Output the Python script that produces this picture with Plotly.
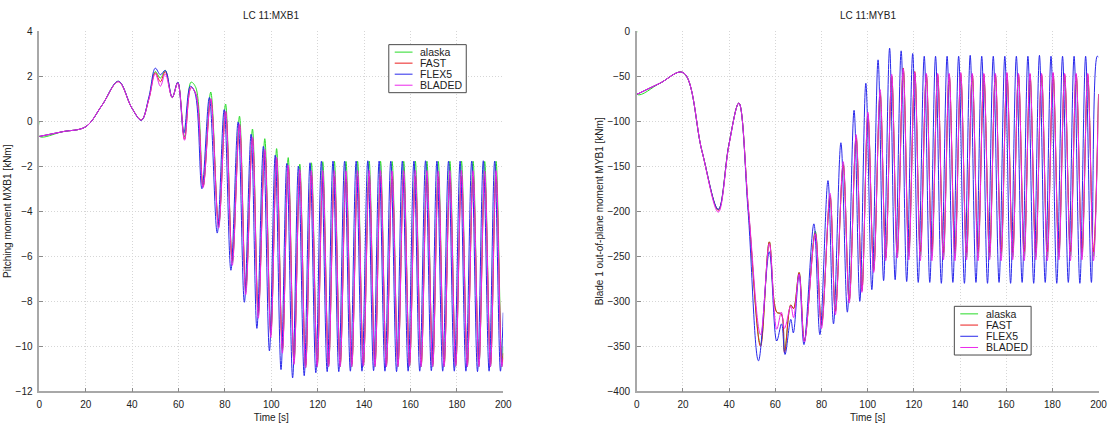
import plotly.graph_objects as go

# ---------------------------------------------------------------------------
# Load case 11: blade root moments, four aero-elastic codes compared.
# Each series is stored as its turning points (time [s], moment [kNm]).
# ---------------------------------------------------------------------------

series_names = ["alaska", "FAST", "FLEX5", "BLADED"]

# ----- Pitching moment MXB1 [kNm] -----
mxb1_t_flex5 = [
    0, 10, 20, 27, 34.1, 39.8, 44.0, 47.3, 50.0, 52.2, 54.3, 57.3, 59.7,
    62.3, 65.1, 67.1, 70.1, 73.3, 76.7, 79.7, 82.6, 85.7, 88.4, 91.3, 93.8, 96.6,
    99.2, 101.7, 104.2, 106.7, 109.2, 111.7, 114.2, 116.7, 119.2, 121.6, 124.1,
    126.6, 129.1, 131.6, 134.1, 136.6, 139.1, 141.6, 144.1, 146.5, 149.0,
    151.5, 154.0, 156.5, 159.0, 161.5, 164.0, 166.5, 169.0, 171.4, 173.9,
    176.4, 178.9, 181.4, 183.9, 186.4, 188.9, 191.4, 193.9, 196.3, 198.8, 200,
]
mxb1_t_lag = [
    0, 10, 20, 27, 34.1, 39.8, 44.0, 47.3, 50.0, 52.2, 54.3, 57.3, 59.7,
    62.6, 65.4, 67.5, 70.6, 73.9, 77.3, 80.3, 83.2, 86.3, 89.0, 91.9, 94.4, 97.2,
    99.8, 102.3, 104.8, 107.3, 109.8, 112.3, 114.8, 117.3, 119.8, 122.2, 124.7,
    127.2, 129.7, 132.2, 134.7, 137.2, 139.7, 142.2, 144.7, 147.1, 149.6,
    152.1, 154.6, 157.1, 159.6, 162.1, 164.6, 167.1, 169.6, 172.0, 174.5,
    177.0, 179.5, 182.0, 184.5, 187.0, 189.5, 192.0, 194.5, 196.9, 199.4, 200,
]
mxb1_t_alaska = [
    0, 0.05, 10, 20, 27, 34.1, 39.8, 44.0, 47.3, 50.0, 52.2, 54.3, 57.3, 59.7,
    62.6, 65.4, 67.5, 70.6, 73.9, 77.3, 80.3, 83.2, 86.3, 89.0, 91.9, 94.4, 97.2,
    99.8, 102.3, 104.8, 107.3, 109.8, 112.3, 114.8, 117.3, 119.8, 122.2, 124.7,
    127.2, 129.7, 132.2, 134.7, 137.2, 139.7, 142.2, 144.7, 147.1, 149.6,
    152.1, 154.6, 157.1, 159.6, 162.1, 164.6, 167.1, 169.6, 172.0, 174.5,
    177.0, 179.5, 182.0, 184.5, 187.0, 189.5, 192.0, 194.5, 196.9, 199.4, 200,
]

mxb1_alaska = [
    0.0, -0.68, -0.47, -0.25, 0.7, 1.77, 0.6, 0.05, 1.05, 2.2, 1.91, 2.25, 1.05, 1.73,
    -0.7, 1.73, 1.48, -2.9, 1.29, -4.7, 0.76, -6.3, 0.22, -7.6, -0.35, -8.65, -0.78,
    -9.5, -1.22, -10.2, -1.62, -10.75, -1.91, -10.95, -1.85, -10.9, -1.8, -10.9,
    -1.78, -10.9, -1.79, -10.9, -1.78, -10.88, -1.77, -10.9, -1.78, -10.9,
    -1.79, -10.9, -1.78, -10.88, -1.77, -10.9, -1.78, -10.9, -1.79, -10.9,
    -1.78, -10.88, -1.77, -10.9, -1.78, -10.9, -1.79, -10.9, -1.78, -10.9, -10.0,
]
mxb1_fast = [
    -0.68, -0.47, -0.25, 0.7, 1.75, 0.6, 0.05, 1.0, 2.15, 1.75, 2.2, 1.05, 1.7,
    -0.8, 1.5, 1.2, -2.9, 0.97, -4.6, 0.4, -6.2, -0.18, -7.4, -0.78, -8.5, -1.33,
    -9.35, -1.69, -10.1, -2.05, -10.6, -2.3, -10.85, -2.4, -10.82, -2.45, -10.8,
    -2.45, -10.8, -2.46, -10.8, -2.45, -10.78, -2.44, -10.8, -2.45, -10.8,
    -2.46, -10.8, -2.45, -10.78, -2.44, -10.8, -2.45, -10.8, -2.46, -10.8,
    -2.45, -10.78, -2.44, -10.8, -2.45, -10.8, -2.46, -10.8, -2.45, -10.8, -10.3,
]
mxb1_flex5 = [
    -0.68, -0.47, -0.25, 0.7, 1.77, 0.6, 0.03, 1.1, 2.35, 2.06, 2.25, 1.05, 1.73,
    -0.54, 1.55, 1.26, -3.0, 1.05, -4.97, 0.51, -6.62, -0.04, -8.04, -0.58, -9.2, -1.12,
    -10.2, -1.51, -11.03, -1.88, -11.4, -2.0, -11.3, -1.85, -11.17, -1.78, -11.12,
    -1.77, -11.12, -1.78, -11.10, -1.77, -11.10, -1.76, -11.08, -1.77, -11.10,
    -1.78, -11.12, -1.77, -11.10, -1.77, -11.10, -1.76, -11.08, -1.77, -11.10,
    -1.78, -11.10, -1.77, -11.10, -1.77, -11.12, -1.76, -11.10, -1.77, -11.10, -8.5,
]
mxb1_bladed = [
    -0.68, -0.47, -0.25, 0.7, 1.75, 0.6, 0.05, 1.0, 2.1, 1.55, 2.1, 1.05, 1.7,
    -0.85, 1.48, 1.2, -2.95, 1.0, -4.75, 0.45, -6.4, -0.12, -7.7, -0.7, -8.75, -1.25,
    -9.6, -1.6, -10.3, -1.95, -10.8, -2.15, -10.95, -2.2, -10.9, -2.2, -10.9,
    -2.2, -10.9, -2.21, -10.9, -2.2, -10.88, -2.19, -10.9, -2.2, -10.9,
    -2.21, -10.9, -2.2, -10.88, -2.19, -10.9, -2.2, -10.9, -2.21, -10.9,
    -2.2, -10.88, -2.19, -10.9, -2.2, -10.9, -2.21, -10.9, -2.2, -10.9, -10.5,
]

# ----- Blade 1 out-of-plane moment MYB1 [kNm] -----
myb1_t_flex5 = [
    0, 10, 20, 28.2, 35.3, 39.9, 44.2, 48.2, 52.7, 57.4,
    60.6, 62.7, 64.2, 66.7, 67.8, 70.3, 72.4, 76.7, 79.3, 82.8,
    85.2, 88.4, 91.2, 94.1, 96.6,
    99.2, 101.8, 104.5, 106.9, 109.5, 111.9, 114.5, 116.9, 119.5, 121.9, 124.5,
    126.9, 129.4, 131.9, 134.4, 136.9, 139.4, 141.9, 144.4, 146.9, 149.4,
    151.9, 154.4, 156.9, 159.4, 161.9, 164.4, 166.9, 169.4, 171.9, 174.4,
    176.9, 179.4, 181.9, 184.4, 186.9, 189.4, 191.9, 194.4, 196.9, 199.4, 200,
]
myb1_t_lag = [
    0, 10, 20, 28.2, 35.3, 39.9, 44.2, 48.4, 53.6, 57.4,
    60.6, 62.6, 64.0, 66.7, 67.9, 70.3, 72.6, 77.3, 80.0, 83.7,
    86.0, 89.4, 92.0, 95.0, 97.5,
    100.1, 102.6, 105.4, 107.8, 110.4, 112.8, 115.4, 117.8, 120.4, 122.8, 125.4,
    127.8, 130.3, 132.8, 135.3, 137.8, 140.3, 142.8, 145.3, 147.8, 150.3,
    152.8, 155.3, 157.8, 160.3, 162.8, 165.3, 167.8, 170.3, 172.8, 175.3,
    177.8, 180.3, 182.8, 185.3, 187.8, 190.3, 192.8, 195.3, 197.8, 200,
]
myb1_t_alaska = [
    0, 0.05, 10, 20, 28.2, 35.3, 39.9, 44.2, 48.4, 53.6, 57.4,
    60.6, 62.6, 64.0, 66.7, 67.9, 70.3, 72.6, 77.3, 80.0, 83.7,
    86.0, 89.4, 92.0, 95.0, 97.5,
    100.1, 102.6, 105.4, 107.8, 110.4, 112.8, 115.4, 117.8, 120.4, 122.8, 125.4,
    127.8, 130.3, 132.8, 135.3, 137.8, 140.3, 142.8, 145.3, 147.8, 150.3,
    152.8, 155.3, 157.8, 160.3, 162.8, 165.3, 167.8, 170.3, 172.8, 175.3,
    177.8, 180.3, 182.8, 185.3, 187.8, 190.3, 192.8, 195.3, 197.8, 200,
]

myb1_alaska = [
    0, -70.3, -58, -46, -133, -198, -126, -80, -200, -348, -234,
    -312, -314, -355, -304, -308, -268, -344, -222, -327, -182,
    -311, -147, -299, -117, -288,
    -92, -264, -68, -252, -50, -250, -43, -250, -47, -250, -50,
    -250, -50, -251, -50, -250, -49, -251, -50, -250, -50,
    -251, -50, -250, -49, -251, -50, -250, -50, -251, -50,
    -250, -49, -251, -50, -250, -50, -251, -50, -250, -70,
]
myb1_fast = [
    -70.3, -58, -46, -133, -199, -126, -80, -200, -350, -234,
    -312, -314, -357, -304, -308, -268, -344, -224, -326, -184,
    -311, -149, -299, -119, -288,
    -93, -266, -70, -252, -50, -246, -41, -245, -45, -245, -48,
    -245, -48, -246, -48, -245, -47, -246, -48, -245, -48,
    -246, -48, -245, -47, -246, -48, -245, -48, -246, -48,
    -245, -47, -246, -48, -245, -48, -246, -48, -245, -70,
]
myb1_flex5 = [
    -70.3, -58, -46, -133, -198, -126, -80, -200, -366, -245,
    -344, -325, -359, -320, -335, -270, -348, -214, -337, -166,
    -325, -124, -312, -88, -300,
    -58, -287, -32, -277, -19, -276, -22, -278, -25, -279, -28,
    -279, -28, -280, -28, -279, -28, -280, -27, -279, -28,
    -280, -28, -279, -28, -280, -28, -279, -28, -280, -27,
    -279, -28, -280, -28, -279, -28, -280, -28, -279, -28, -29,
]
myb1_bladed = [
    -70.3, -58, -46, -133, -201, -127, -80, -198, -337, -236,
    -331, -312, -330, -305, -318, -270, -345, -225, -330, -180,
    -315, -145, -302, -115, -290,
    -90, -268, -65, -255, -48, -252, -42, -254, -46, -255, -47,
    -255, -47, -254, -47, -255, -46, -254, -47, -255, -47,
    -254, -47, -255, -46, -254, -47, -255, -47, -254, -47,
    -255, -46, -254, -47, -255, -47, -254, -47, -255, -70,
]

x_ticks = [0, 20, 40, 60, 80, 100, 120, 140, 160, 180, 200]
mxb1_ticks = [4, 2, 0, -2, -4, -6, -8, -10, -12]
myb1_ticks = [0, -50, -100, -150, -200, -250, -300, -350, -400]

# ---------------------------------------------------------------------------
line_colors = {
    "alaska": "rgb(40,220,40)",
    "FAST": "rgb(235,30,30)",
    "FLEX5": "rgb(40,40,235)",
    "BLADED": "rgb(235,40,235)",
}

panels = [
    dict(
        t={"alaska": mxb1_t_alaska, "FAST": mxb1_t_lag,
           "FLEX5": mxb1_t_flex5, "BLADED": mxb1_t_lag},
        y={"alaska": mxb1_alaska, "FAST": mxb1_fast,
           "FLEX5": mxb1_flex5, "BLADED": mxb1_bladed},
        xaxis="x", yaxis="y",
        legend_box=(390, 40.7, 468.3, 90.0),   # left, top, right, bottom [px]
    ),
    dict(
        t={"alaska": myb1_t_alaska, "FAST": myb1_t_lag,
           "FLEX5": myb1_t_flex5, "BLADED": myb1_t_lag},
        y={"alaska": myb1_alaska, "FAST": myb1_fast,
           "FLEX5": myb1_flex5, "BLADED": myb1_bladed},
        xaxis="x2", yaxis="y2",
        legend_box=(961.7, 309.3, 1039.3, 359.3),
    ),
]

FONT = "Liberation Sans, Arial, sans-serif"
W, H = 1113, 426
TXT = "#222222"


def px_x(v):
    return v / W


def px_y(v):
    return 1 - v / H


fig = go.Figure()
for p in panels:
    for name in series_names:
        fig.add_trace(go.Scatter(
            x=p["t"][name], y=p["y"][name], name=name, mode="lines",
            line=dict(color=line_colors[name], width=1, shape="spline", smoothing=1.0),
            xaxis=p["xaxis"], yaxis=p["yaxis"], showlegend=False,
            hoverinfo="skip",
        ))

# Compact boxed legends (one per panel), MATLAB style
shapes = []
annotations = []
for p in panels:
    x0, y0, x1, y1 = p["legend_box"]
    shapes.append(dict(type="rect", xref="paper", yref="paper",
                       x0=px_x(x0), x1=px_x(x1), y0=px_y(y1), y1=px_y(y0),
                       line=dict(color="#4a4a4a", width=1), fillcolor="white",
                       layer="above"))
    row_h = (y1 - y0 - 4) / len(series_names)
    for i, name in enumerate(series_names):
        yc = y0 + 2 + row_h * (i + 0.5)
        shapes.append(dict(type="line", xref="paper", yref="paper",
                           x0=px_x(x0 + 6), x1=px_x(x0 + 24), y0=px_y(yc), y1=px_y(yc),
                           line=dict(color=line_colors[name], width=1), layer="above"))
        annotations.append(dict(text=name, xref="paper", yref="paper",
                                x=px_x(x0 + 30), y=px_y(yc), xanchor="left",
                                yanchor="middle", showarrow=False,
                                font=dict(family=FONT, size=10.5, color=TXT)))

axis_common = dict(
    showline=True, linecolor="#a8a8a8", linewidth=1.5,
    ticks="inside", ticklen=4, tickcolor="#8a8a8a", tickwidth=1,
    showgrid=True, gridcolor="#d6d6d6", griddash="1px,2px", gridwidth=1,
    zeroline=False, mirror=False,
    tickfont=dict(family=FONT, size=10, color=TXT),
    title_font=dict(family=FONT, size=10, color=TXT),
    fixedrange=True,
)

y_dom = [px_y(396.7), px_y(26.7)]
left_dom = [px_x(36.7), px_x(505.7)]
right_dom = [px_x(640.7), px_x(1107.5)]

annotations += [
    dict(text="LC 11:MXB1", x=(left_dom[0] + left_dom[1]) / 2, y=px_y(11),
         xref="paper", yref="paper", xanchor="center", yanchor="middle",
         showarrow=False, font=dict(family=FONT, size=10, color=TXT)),
    dict(text="LC 11:MYB1", x=(right_dom[0] + right_dom[1]) / 2, y=px_y(11),
         xref="paper", yref="paper", xanchor="center", yanchor="middle",
         showarrow=False, font=dict(family=FONT, size=10, color=TXT)),
]

fig.update_layout(
    width=W, height=H,
    margin=dict(l=0, r=0, t=0, b=0),
    paper_bgcolor="white", plot_bgcolor="white",
    font=dict(family=FONT, size=10, color=TXT),
    xaxis=dict(domain=left_dom, range=[0, 200], tickvals=x_ticks, anchor="y",
               ticklabelstandoff=3,
               title=dict(text="Time [s]", standoff=5), **axis_common),
    yaxis=dict(domain=y_dom, range=[-12, 4], tickvals=mxb1_ticks, anchor="x",
               ticklabelstandoff=3,
               title=dict(text="Pitching moment MXB1 [kNm]", standoff=2), **axis_common),
    xaxis2=dict(domain=right_dom, range=[0, 200], tickvals=x_ticks, anchor="y2",
                ticklabelstandoff=3,
                title=dict(text="Time [s]", standoff=5), **axis_common),
    yaxis2=dict(domain=y_dom, range=[-400, 0], tickvals=myb1_ticks, anchor="x2",
                ticklabelstandoff=3,
                title=dict(text="Blade 1 out-of-plane moment MYB1 [kNm]", standoff=2),
                **axis_common),
    shapes=shapes,
    annotations=annotations,
    showlegend=False,
)

fig.write_html("out.html")
